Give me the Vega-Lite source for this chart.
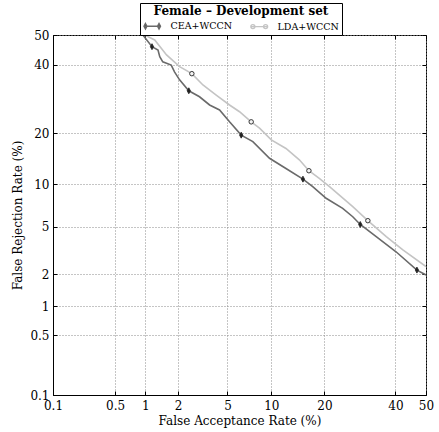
{
  "$schema": "https://vega.github.io/schema/vega-lite/v6.json",
  "width": 373,
  "height": 360,
  "autosize": {"type": "none"},
  "padding": {"left": 53, "top": 35, "right": 13, "bottom": 37},
  "background": "white",
  "config": {
    "font": "DejaVu Serif",
    "view": {"stroke": "black", "strokeWidth": 1},
    "axis": {
      "labelFont": "DejaVu Serif",
      "titleFont": "DejaVu Serif",
      "labelFontSize": 12,
      "titleFontSize": 12,
      "titleFontWeight": "normal",
      "labelColor": "black",
      "titleColor": "black",
      "domainColor": "black",
      "tickColor": "black",
      "gridColor": "#8a8a8a",
      "gridDash": [1, 2],
      "gridWidth": 1,
      "labelFlush": false,
      "labelOverlap": false
    },
    "legend": {"labelFont": "DejaVu Serif", "titleFont": "DejaVu Serif"}
  },
  "datasets": {
    "curves": [
      {"series": "CEA+WCCN", "fa": 0.95, "fr": 50},
      {"series": "CEA+WCCN", "fa": 1.16, "fr": 46.0},
      {"series": "CEA+WCCN", "fa": 1.32, "fr": 44.9},
      {"series": "CEA+WCCN", "fa": 1.37, "fr": 42.6},
      {"series": "CEA+WCCN", "fa": 1.46, "fr": 40.9},
      {"series": "CEA+WCCN", "fa": 1.74, "fr": 39.8},
      {"series": "CEA+WCCN", "fa": 1.86, "fr": 37.6},
      {"series": "CEA+WCCN", "fa": 2.06, "fr": 35.0},
      {"series": "CEA+WCCN", "fa": 2.47, "fr": 31.6},
      {"series": "CEA+WCCN", "fa": 3.03, "fr": 29.8},
      {"series": "CEA+WCCN", "fa": 3.65, "fr": 27.4},
      {"series": "CEA+WCCN", "fa": 4.36, "fr": 26.0},
      {"series": "CEA+WCCN", "fa": 5.18, "fr": 22.8},
      {"series": "CEA+WCCN", "fa": 6.29, "fr": 19.5},
      {"series": "CEA+WCCN", "fa": 7.57, "fr": 18.0},
      {"series": "CEA+WCCN", "fa": 9.74, "fr": 14.5},
      {"series": "CEA+WCCN", "fa": 12.3, "fr": 12.6},
      {"series": "CEA+WCCN", "fa": 15.4, "fr": 10.8},
      {"series": "CEA+WCCN", "fa": 17.4, "fr": 9.64},
      {"series": "CEA+WCCN", "fa": 20.4, "fr": 8.05},
      {"series": "CEA+WCCN", "fa": 24.5, "fr": 6.84},
      {"series": "CEA+WCCN", "fa": 27.2, "fr": 5.94},
      {"series": "CEA+WCCN", "fa": 29.3, "fr": 5.19},
      {"series": "CEA+WCCN", "fa": 34.0, "fr": 4.17},
      {"series": "CEA+WCCN", "fa": 40.2, "fr": 3.14},
      {"series": "CEA+WCCN", "fa": 47.0, "fr": 2.18},
      {"series": "CEA+WCCN", "fa": 50, "fr": 1.97},
      {"series": "LDA+WCCN", "fa": 0.99, "fr": 50},
      {"series": "LDA+WCCN", "fa": 1.23, "fr": 48.3},
      {"series": "LDA+WCCN", "fa": 1.58, "fr": 43.2},
      {"series": "LDA+WCCN", "fa": 2.06, "fr": 39.3},
      {"series": "LDA+WCCN", "fa": 2.62, "fr": 37.0},
      {"series": "LDA+WCCN", "fa": 3.23, "fr": 33.4},
      {"series": "LDA+WCCN", "fa": 4.11, "fr": 30.3},
      {"series": "LDA+WCCN", "fa": 5.18, "fr": 27.4},
      {"series": "LDA+WCCN", "fa": 6.12, "fr": 25.5},
      {"series": "LDA+WCCN", "fa": 7.38, "fr": 22.8},
      {"series": "LDA+WCCN", "fa": 8.39, "fr": 21.2},
      {"series": "LDA+WCCN", "fa": 10.0, "fr": 18.4},
      {"series": "LDA+WCCN", "fa": 12.3, "fr": 16.5},
      {"series": "LDA+WCCN", "fa": 14.7, "fr": 14.2},
      {"series": "LDA+WCCN", "fa": 16.6, "fr": 12.2},
      {"series": "LDA+WCCN", "fa": 18.9, "fr": 10.9},
      {"series": "LDA+WCCN", "fa": 21.2, "fr": 9.64},
      {"series": "LDA+WCCN", "fa": 27.2, "fr": 7.03},
      {"series": "LDA+WCCN", "fa": 31.5, "fr": 5.55},
      {"series": "LDA+WCCN", "fa": 37.1, "fr": 4.17},
      {"series": "LDA+WCCN", "fa": 42.4, "fr": 3.25},
      {"series": "LDA+WCCN", "fa": 50, "fr": 2.34}
    ],
    "markers": [
      {"series": "CEA+WCCN", "fa": 1.16, "fr": 46.0},
      {"series": "CEA+WCCN", "fa": 2.47, "fr": 31.6},
      {"series": "CEA+WCCN", "fa": 6.29, "fr": 19.5},
      {"series": "CEA+WCCN", "fa": 15.4, "fr": 10.8},
      {"series": "CEA+WCCN", "fa": 29.3, "fr": 5.19},
      {"series": "CEA+WCCN", "fa": 47.0, "fr": 2.18},
      {"series": "LDA+WCCN", "fa": 2.62, "fr": 37.0},
      {"series": "LDA+WCCN", "fa": 7.38, "fr": 22.8},
      {"series": "LDA+WCCN", "fa": 16.6, "fr": 12.2},
      {"series": "LDA+WCCN", "fa": 31.5, "fr": 5.55}
    ]
  },
  "layer": [
    {
      "data": {"name": "curves"},
      "transform": [
        {"calculate": "quantileNormal(datum.fa / 100)", "as": "zx"},
        {"calculate": "quantileNormal(datum.fr / 100)", "as": "zy"}
      ],
      "mark": {"type": "line", "strokeWidth": 1.6, "clip": true},
      "encoding": {
        "x": {
          "field": "zx", "type": "quantitative",
          "scale": {"domain": [-3.0902, 0], "nice": false, "zero": false},
          "axis": {
            "values": [-3.0902, -2.5758, -2.3263, -2.0537, -1.6449, -1.2816, -0.8416, -0.2533, 0],
            "labelExpr": "format(cumulativeNormal(datum.value) * 100, '.2~r')",
            "title": "False Acceptance Rate (%)",
            "grid": true,
            "tickSize": -4,
            "labelPadding": 9,
            "titleY": 25,
            "titleBaseline": "middle"
          }
        },
        "y": {
          "field": "zy", "type": "quantitative",
          "scale": {"domain": [-3.0902, 0], "nice": false, "zero": false},
          "axis": {
            "values": [-3.0902, -2.5758, -2.3263, -2.0537, -1.6449, -1.2816, -0.8416, -0.2533, 0],
            "labelExpr": "format(cumulativeNormal(datum.value) * 100, '.2~r')",
            "title": "False Rejection Rate (%)",
            "grid": true,
            "tickSize": -4,
            "labelPadding": 8,
            "titleX": -36,
            "titleY": 180,
            "titleBaseline": "middle"
          }
        },
        "color": {
          "field": "series", "type": "nominal",
          "scale": {"domain": ["CEA+WCCN", "LDA+WCCN"], "range": ["#6a6a6a", "#c4c4c4"]},
          "legend": {
            "orient": "none",
            "legendX": 87,
            "legendY": -32,
            "direction": "horizontal",
            "title": "Female – Development set",
            "titleFontSize": 12,
            "titleFontWeight": "bold",
            "titleColor": "black",
            "titleAnchor": "middle",
            "titleAlign": "center",
            "titlePadding": 3,
            "labelFontSize": 9.5,
            "labelColor": "black",
            "labelOffset": 17.5,
            "columnPadding": 14,
            "symbolSize": 72,
            "symbolStrokeWidth": 1.4,
            "padding": 3,
            "strokeColor": "black",
            "fillColor": "white",
            "encode": {
              "symbols": {
                "update": {
                  "shape": {"signal": "datum.value === 'CEA+WCCN' ? 'M-1,0L3,0M-0.6,-0.65L-0.25,0L-0.6,0.65L-0.95,0ZM2.6,-0.65L2.95,0L2.6,0.65L2.25,0Z' : 'M-1,0L3,0M-0.03,0A0.47,0.47 0 1,1 -0.97,0A0.47,0.47 0 1,1 -0.03,0ZM2.97,0A0.47,0.47 0 1,1 2.03,0A0.47,0.47 0 1,1 2.97,0Z'"},
                  "fill": {"signal": "datum.value === 'CEA+WCCN' ? '#222222' : '#ffffff'"}
                }
              }
            }
          }
        }
      }
    },
    {
      "data": {"name": "markers"},
      "transform": [
        {"filter": "datum.series === 'CEA+WCCN'"},
        {"calculate": "quantileNormal(datum.fa / 100)", "as": "zx"},
        {"calculate": "quantileNormal(datum.fr / 100)", "as": "zy"}
      ],
      "mark": {"type": "point", "shape": "M0,-1L0.55,0L0,1L-0.55,0Z", "filled": true, "fill": "#222222", "stroke": "#222222", "strokeWidth": 0.8, "size": 36, "opacity": 1},
      "encoding": {
        "x": {
          "field": "zx", "type": "quantitative",
          "axis": {
            "orient": "top",
            "values": [-3.0902, -2.5758, -2.3263, -2.0537, -1.6449, -1.2816, -0.8416, -0.2533, 0],
            "labels": false, "grid": false, "domain": false, "title": null, "tickSize": -4
          }
        },
        "y": {
          "field": "zy", "type": "quantitative",
          "axis": {
            "orient": "right",
            "values": [-3.0902, -2.5758, -2.3263, -2.0537, -1.6449, -1.2816, -0.8416, -0.2533, 0],
            "labels": false, "grid": false, "domain": false, "title": null, "tickSize": -4
          }
        }
      }
    },
    {
      "data": {"name": "markers"},
      "transform": [
        {"filter": "datum.series === 'LDA+WCCN'"},
        {"calculate": "quantileNormal(datum.fa / 100)", "as": "zx"},
        {"calculate": "quantileNormal(datum.fr / 100)", "as": "zy"}
      ],
      "mark": {"type": "point", "shape": "circle", "filled": true, "fill": "#f4f4f4", "stroke": "#222222", "strokeWidth": 0.9, "size": 20, "opacity": 1},
      "encoding": {
        "x": {"field": "zx", "type": "quantitative", "axis": null},
        "y": {"field": "zy", "type": "quantitative", "axis": null}
      }
    }
  ],
  "resolve": {"axis": {"x": "independent", "y": "independent"}}
}
